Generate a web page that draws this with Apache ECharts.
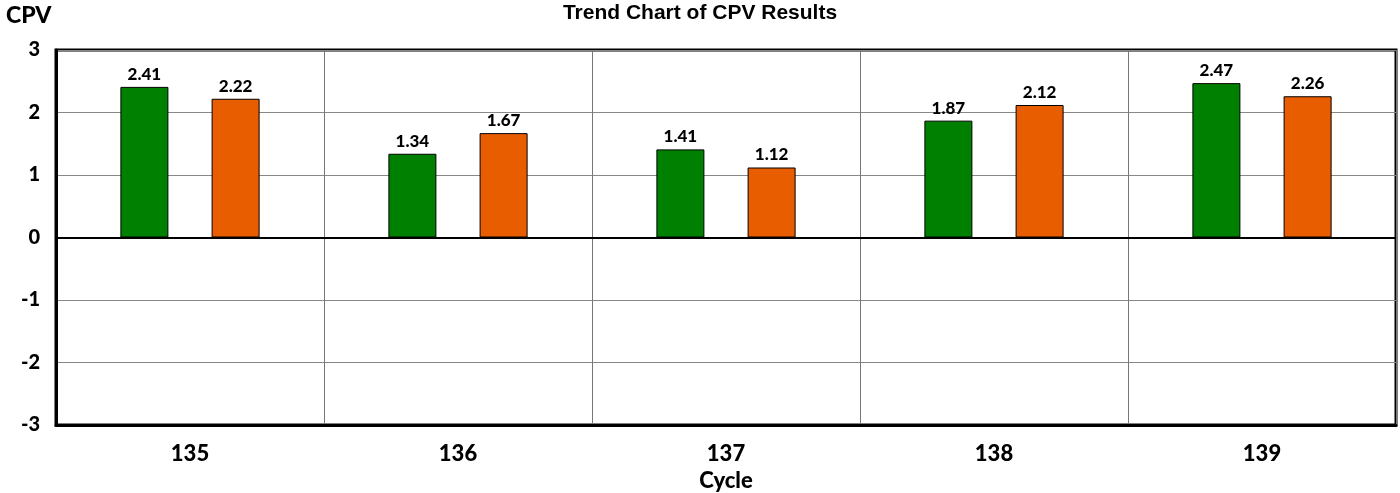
<!DOCTYPE html>
<html><head><meta charset="utf-8">
<script src="https://cdn.jsdelivr.net/npm/echarts@6/dist/echarts.min.js"></script>
<style>html,body{margin:0;padding:0;background:#fff;overflow:hidden}#c{width:1400px;height:493px}</style>
</head><body><div id="c"></div>
<script>
const categories = ['135', '136', '137', '138', '139'];
const seriesA = [2.41, 1.34, 1.41, 1.87, 2.47];
const seriesB = [2.22, 1.67, 1.12, 2.12, 2.26];
const yTicks = [-3, -2, -1, 0, 1, 2, 3];

const font = 'Lato, "DejaVu Sans", sans-serif';
const chart = echarts.init(document.getElementById('c'), null, {renderer: 'canvas'});
chart.setOption({
  animation: false,
  title: {
    text: 'Trend Chart of CPV Results', left: 'center', top: -2,
    textStyle: {fontFamily: '"Liberation Sans", Arial, sans-serif', fontWeight: 'bold', fontSize: 21, color: '#000'}
  },
  grid: {left: 56, right: 4, top: 50, bottom: 68, show: true, borderColor: '#000', borderWidth: 3,
    containLabel: false, outerBoundsMode: 'none'},
  xAxis: {
    type: 'category', data: categories,
    name: 'Cycle', nameLocation: 'middle', nameGap: 42,
    nameTextStyle: {fontFamily: font, fontWeight: 900, fontSize: 22, color: '#000'},
    axisLine: {onZero: false, lineStyle: {color: '#000', width: 3}},
    axisTick: {show: false},
    axisLabel: {fontFamily: font, fontWeight: 900, fontSize: 22, color: '#000', margin: 18},
    splitLine: {show: true, lineStyle: {color: '#777', width: 1}}
  },
  yAxis: {
    type: 'value', min: -3, max: 3, interval: 1,
    name: 'CPV', nameLocation: 'end', nameGap: 23,
    nameTextStyle: {fontFamily: font, fontWeight: 900, fontSize: 23, color: '#000', align: 'left', padding: [0, 0, 0, -50]},
    axisLine: {show: true, lineStyle: {color: '#000', width: 3}},
    axisTick: {show: false},
    axisLabel: {fontFamily: font, fontWeight: 900, fontSize: 20, color: '#000', margin: 16,
      formatter: v => yTicks.includes(v) ? String(v) : ''},
    splitLine: {show: true, lineStyle: {color: '#888', width: 1}}
  },
  series: [
    {
      type: 'bar', data: seriesA, barWidth: 48, barGap: '90%',
      itemStyle: {color: '#008000', borderColor: '#000', borderWidth: 1},
      label: {show: true, position: 'top', distance: 4, fontFamily: font, fontWeight: 900, fontSize: 17, color: '#000', formatter: p => p.value.toFixed(2)},
      markLine: {silent: true, symbol: 'none', label: {show: false}, lineStyle: {color: '#000', width: 2, type: 'solid'}, data: [{yAxis: 0}]}
    },
    {
      type: 'bar', data: seriesB, barWidth: 48,
      itemStyle: {color: '#E85D00', borderColor: '#000', borderWidth: 1},
      label: {show: true, position: 'top', distance: 4, fontFamily: font, fontWeight: 900, fontSize: 17, color: '#000', formatter: p => p.value.toFixed(2)}
    }
  ]
});
</script></body></html>
